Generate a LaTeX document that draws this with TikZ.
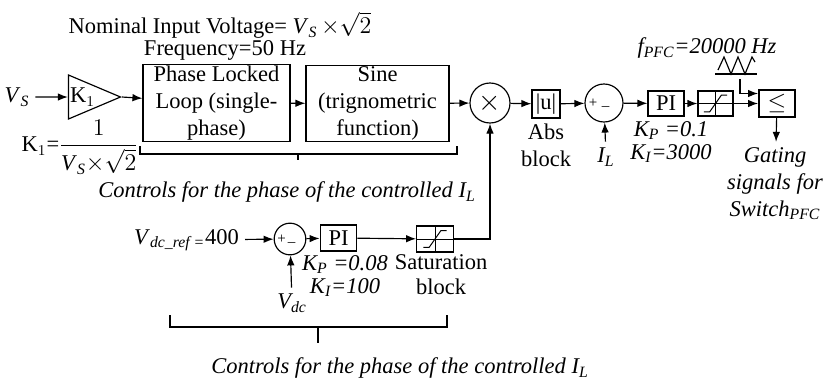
\documentclass[tikz,border=0pt]{standalone}
\usepackage{amsmath}
\usepackage{fontspec}
\setmainfont{Liberation Serif}
\usetikzlibrary{arrows.meta, positioning, shapes.geometric, calc}

\newcommand{\isub}[2]{\textit{#1}\textsubscript{\textit{#2}}}

\begin{document}
\begin{tikzpicture}[
    x=0.6pt, y=-0.6pt,
    font=\fontsize{13.5}{16}\selectfont,
    line width=0.7pt,
    block/.style={
        draw, align=center, inner sep=1pt
    },
    sumnode/.style={
        draw, circle, inner sep=0pt
    },
    satbox/.style={
        draw, minimum width=21pt, minimum height=15pt, inner sep=0pt,
        path picture={
            \draw[line width=0.5pt] (path picture bounding box.west) -- (path picture bounding box.east);
            \draw[line width=0.5pt] (path picture bounding box.north) -- (path picture bounding box.south);
            \draw[line width=0.6pt] ([shift={(-7pt,-5pt)}]path picture bounding box.center)
                -- ++(3.5pt,0) -- ++(7pt,10pt) -- ++(3.5pt,0);
        }
    },
    itext/.style={align=center, font=\fontsize{13.5}{#1}\selectfont\itshape},
    itext/.default=16,
    sgn/.style={font=\fontsize{9}{9}\selectfont, inner sep=0pt},
    sig/.style={-{Latex[length=6pt, width=4.5pt]}}
]
\useasboundingbox (0,0) rectangle (827,386);

% upper path
\node[inner sep=0pt] (nominal) at (220,25) {Nominal Input Voltage= \isub{V}{S}\,$\times\sqrt{2}$};
\node[inner sep=1pt] (freq) at (225,50) {Frequency=50 Hz};

\node (vs) at (17,97) {\isub{V}{S}};
\node[isosceles triangle, isosceles triangle stretches, draw, inner sep=0pt,
      minimum width=26.4pt, minimum height=31.2pt, anchor=apex] (gain) at (122,97) {K$_1$};
\node (kone) at (80,147) {K$_1$=$\dfrac{1}{\text{\isub{V}{S}}{\times}\sqrt{2}}$};

\node[block, minimum width=88.2pt, minimum height=43.2pt] (pll) at (216.5,103)
    {Phase Locked\\Loop (single-\\phase)};
\node[block, minimum width=85.8pt, minimum height=43.8pt] (sine) at (377.5,103.5)
    {Sine\\(trignometric\\function)};

\node[sumnode, minimum size=24pt, font=\fontsize{18}{18}\selectfont] (mult) at (490,103) {$\times$};
\node[block, minimum width=16.8pt, minimum height=16.8pt, inner sep=0pt] (abs) at (546,104) {|u|};
\node[align=center] (abslbl) at (546,145) {Abs\\block};

\node[sumnode, minimum size=22.8pt] (sum1) at (604,103) {};
\node[sgn] at ([xshift=-6.5pt]sum1.center) {+};
\node[sgn] at ([xshift=1pt,yshift=-2pt]sum1.center) {\_};
\node[itext] (il) at (606,157) {\isub{I}{L}};

\node[block, minimum width=21.6pt, minimum height=15pt] (pi1) at (666,103.5) {PI};
\node[itext=14, inner sep=1pt] (gains1) at (671,142)
    {\isub{K}{P} =0.1\\\isub{K}{I}=3000};
\node[satbox] (sat1) at (715.5,103.5) {};
\node[block, minimum width=21.6pt, minimum height=16.2pt, line width=1.1pt] (cmp) at (777,103.5) {$\leq$};

\node[itext] (fpfc) at (707,48) {\isub{f}{PFC}=20000 Hz};
\draw (715,74) -- (757,74);
\draw (718,70) -- (724,57) -- (731,74) -- (738,57) -- (745,74) -- (752,57) -- (755,62);
\coordinate (wave) at (740,79);

\node[itext] (gating) at (775,184) {Gating\\signals for\\Switch\textsubscript{PFC}};

\draw[sig] (vs) -- (gain.west);
\draw[sig] (gain.apex) -- (pll);
\draw[sig] (pll) -- (sine);
\draw[sig] (sine) -- (mult);
\draw[sig] (mult) -- (abs);
\draw[sig] (abs) -- (sum1);
\draw[sig] (il) -- (sum1);
\draw[sig] (sum1) -- (pi1);
\draw[sig] (pi1) -- (sat1);
\draw[sig] (sat1) -- (cmp);
\draw[sig] (wave) |- ([yshift=6pt]cmp.west);
\draw[sig] (cmp) -- (gating);

% upper bracket
\draw (140,146) |- (457,154) -- (457,146);
\draw (298,154) -- (298,160);
\node[itext] (ctrl1) at (287,192) {Controls for the phase of the controlled \isub{I}{L}};

% lower path
\node[anchor=east] (vdcref) at (245,240) {\isub{V}{dc\_ref =}400};
\node[sumnode, minimum size=19pt] (sum2) at (290,239) {};
\node[sgn] at ([xshift=-5pt]sum2.center) {+};
\node[sgn] at ([xshift=1pt,yshift=-2pt]sum2.center) {\_};
\node[itext] (vdc) at (292,303) {\isub{V}{dc}};

\node[block, minimum width=22pt, minimum height=15.6pt] (pi2) at (338.5,238) {PI};
\node[itext=14] (gains2) at (345,276)
    {\isub{K}{P} =0.08\\\isub{K}{I}=100};
\node[satbox, minimum width=22pt, minimum height=15.6pt] (sat2) at (435,239) {};
\node[align=center, font=\fontsize{13.5}{15}\selectfont] (satlbl) at (441,275) {Saturation\\block};

\draw[sig] (vdcref) -- (sum2);
\draw[sig] (vdc) -- (sum2);
\draw[sig] (sum2) -- (pi2);
\draw[sig] (pi2) -- (sat2);
\draw[sig] (sat2) -| (mult);

% lower bracket
\draw (170,315) |- (447,327) -- (447,315);
\draw (318,327) -- (318,343);
\node[itext] (ctrl2) at (400,368) {Controls for the phase of the controlled \isub{I}{L}};

\end{tikzpicture}
\end{document}
